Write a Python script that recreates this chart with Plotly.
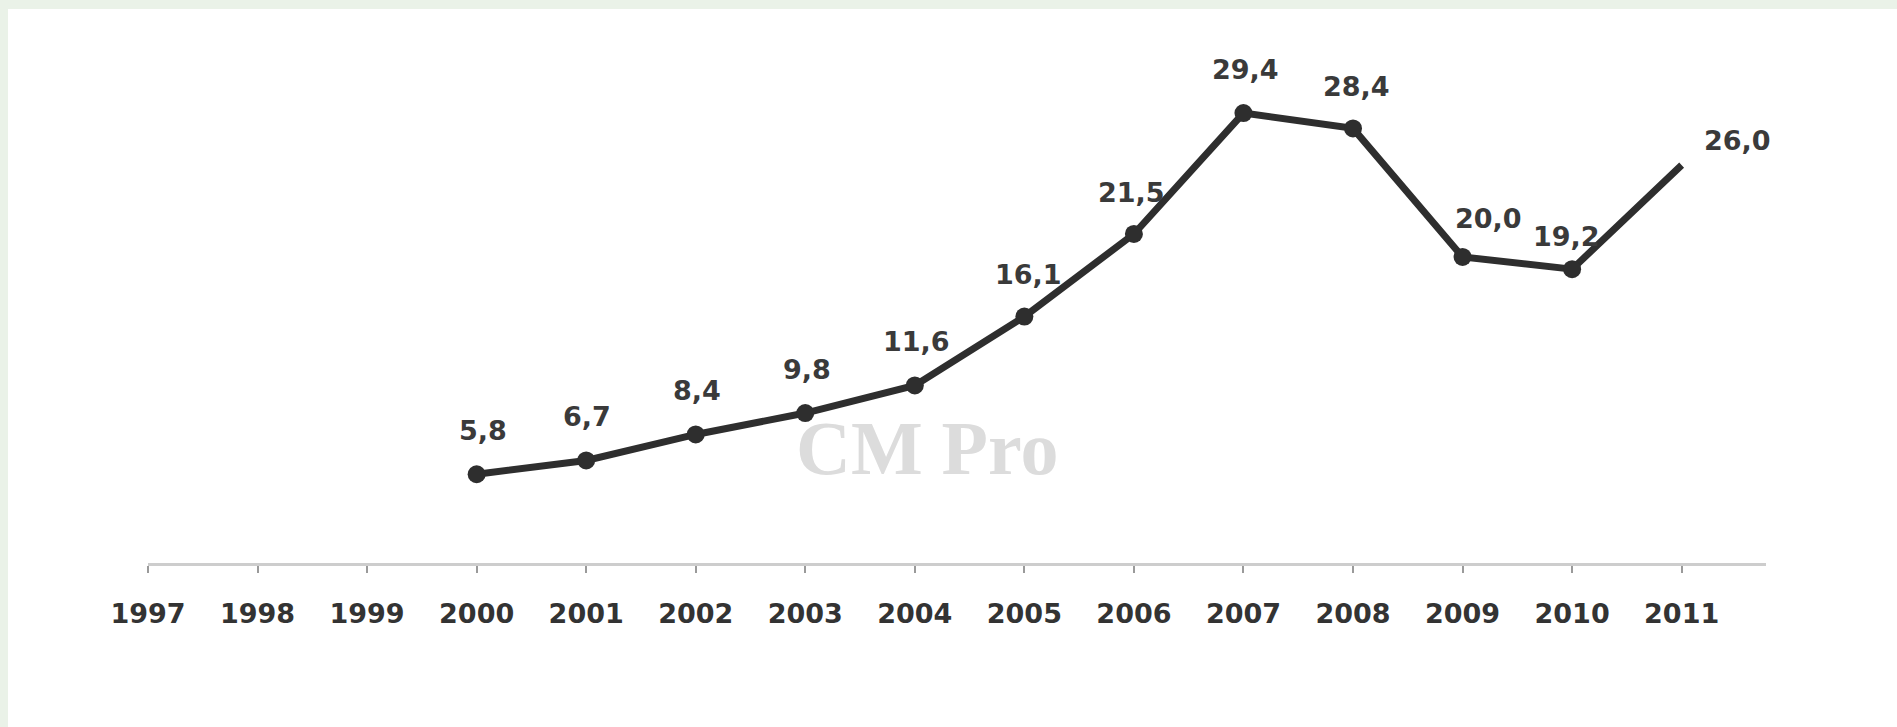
import plotly.graph_objects as go

# Series: annual values, 2000-2011
years = [2000, 2001, 2002, 2003, 2004, 2005, 2006, 2007, 2008, 2009, 2010, 2011]
values = [5.8, 6.7, 8.4, 9.8, 11.6, 16.1, 21.5, 29.4, 28.4, 20.0, 19.2, 26.0]

# Category axis: every year shown on the axis
axis_years = list(range(1997, 2012))
axis_labels = [str(y) for y in axis_years]

# Per-label nudges (px) for the value captions
label_dx = [6, 1, 1, 2, 2, 4, -2, 2, 3, 26, -6, 56]
label_dy = [44, 44, 44, 44, 44, 42, 41, 44, 42, 38, 33, 25]

W, H = 1897, 727
ML, MR, MT, MB = 148, 131, 58, 164
PW, PH = W - ML - MR, H - MT - MB

def px_to_paper_x(px):
    return (px - ML) / PW

def px_to_paper_y(py):
    return (H - MB - py) / PH

ink = "#2e2e2e"

fig = go.Figure()
fig.add_trace(go.Scatter(
    x=years,
    y=values,
    mode="lines",
    line=dict(color=ink, width=7),
    hoverinfo="skip",
    showlegend=False,
))
# Point markers (the last year is drawn as a bare line end)
fig.add_trace(go.Scatter(
    x=years[:-1],
    y=values[:-1],
    mode="markers",
    marker=dict(color=ink, size=18, opacity=1, line=dict(width=0)),
    hoverinfo="skip",
    showlegend=False,
))

def fmt(v):
    return f"{v:.1f}".replace(".", ",")

annotations = []
for x, v, dx, dy in zip(years, values, label_dx, label_dy):
    annotations.append(dict(
        x=x, y=v, xref="x", yref="y",
        text=fmt(v), showarrow=False,
        xanchor="center", yanchor="middle",
        xshift=dx, yshift=dy,
        font=dict(family="DejaVu Sans", size=27, color="#3a3a3a", weight="bold"),
    ))

# Watermark
annotations.append(dict(
    x=px_to_paper_x(927), y=px_to_paper_y(448), xref="paper", yref="paper",
    xanchor="center", yanchor="middle",
    text="CM Pro", showarrow=False,
    font=dict(family="Liberation Serif", size=76, color="#dcdcdc", weight="bold"),
))

# Page frame: light green strip on top and left
shapes = [
    dict(type="rect", xref="paper", yref="paper", layer="below",
         x0=px_to_paper_x(8), x1=px_to_paper_x(W + 5),
         y0=px_to_paper_y(H + 5), y1=px_to_paper_y(9),
         fillcolor="white", line=dict(width=0)),
]

fig.update_layout(
    width=W, height=H,
    margin=dict(l=ML, r=MR, t=MT, b=MB, pad=0),
    paper_bgcolor="#eaf2e8",
    plot_bgcolor="rgba(0,0,0,0)",
    annotations=annotations,
    shapes=shapes,
    xaxis=dict(
        range=[1997, 2011.77],
        tickmode="array", tickvals=axis_years, ticktext=axis_labels,
        showgrid=False, zeroline=False,
        showline=True, linecolor="#cdcdcd", linewidth=3,
        ticks="outside", ticklen=7, tickwidth=1.5, tickcolor="#9a9a9a",
        tickfont=dict(family="DejaVu Sans", size=27, color="#333333", weight="bold"),
        ticklabelstandoff=18,
    ),
    yaxis=dict(range=[0, 33], visible=False, showgrid=False, zeroline=False),
)

fig.write_html("out.html")
